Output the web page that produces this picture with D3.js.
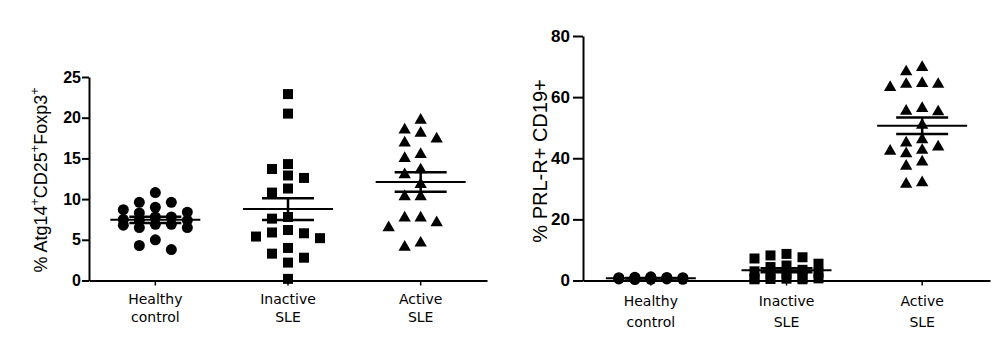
<!DOCTYPE html>
<html>
<head>
<meta charset="utf-8">
<script src="https://cdn.jsdelivr.net/npm/d3@7"></script>
<style>
  html, body { margin: 0; padding: 0; background: #fff; }
  svg { display: block; }
</style>
</head>
<body>
<svg id="chart" width="1002" height="340"></svg>
<script>
// ---------- data ----------
const categories = ["Healthy control", "Inactive SLE", "Active SLE"];

const atgTicks = [0, 5, 10, 15, 20, 25];
const atgHealthy  = [10.8, 9.6, 9.6, 9.0, 8.7, 8.4, 8.3, 7.8, 7.8, 7.5, 7.4, 7.4, 6.9, 6.9, 6.8, 6.5, 6.5, 5.0, 4.3, 3.8];
const atgInactive = [22.9, 20.5, 14.3, 13.7, 12.9, 12.6, 11.3, 10.8, 7.8, 7.6, 6.2, 5.9, 5.8, 5.4, 5.2, 4.0, 3.3, 2.8, 2.2, 0.2];
const atgActive   = [19.7, 18.5, 18.1, 17.4, 16.9, 15.5, 15.0, 13.6, 13.0, 11.8, 10.3, 10.3, 7.7, 7.7, 7.1, 6.5, 4.6, 4.1];

const prlTicks = [0, 20, 40, 60, 80];
const prlHealthy  = [1.2, 0.9, 0.8, 1.0, 0.7, 0.5, 0.9, 0.6, 0.4, 0.8, 1.1, 0.3, 0.7, 0.5, 0.9, 0.6, 0.8, 0.4];
const prlInactive = [8.7, 8.2, 7.6, 7.2, 5.5, 4.9, 4.4, 3.5, 3.0, 2.5, 2.2, 2.0, 0.8, 0.7, 0.7, 0.6, 0.5, 0.4, 0.4];
const prlActive   = [69.7, 68.3, 64.5, 64.2, 64.2, 63.2, 56.3, 55.4, 55.2, 50.8, 46.1, 45.0, 43.7, 42.6, 42.3, 41.5, 38.8, 37.4, 32.0, 31.5];

// ---------- layout ----------
const svg = d3.select("#chart");
const symbols = [d3.symbolCircle, d3.symbolSquare, d3.symbolTriangle];
const symSizes = [95, 100, 66];

function dodge(vals, y, step, maxCol, minDist) {
  const order = d3.range(vals.length).sort((a, b) => vals[b] - vals[a]);
  const cands = [0];
  for (let k = 1; k <= maxCol; k++) cands.push(-k, k);
  const cols = new Array(vals.length);
  const placed = [];
  for (const i of order) {
    const py = y(vals[i]);
    let best = 0, bestD = -1;
    for (const c of cands) {
      const same = placed.filter(p => p.c === c);
      const d = same.length ? d3.min(same, p => Math.abs(p.y - py)) : Infinity;
      if (d >= minDist) { best = c; bestD = Infinity; break; }
      if (d > bestD) { bestD = d; best = c; }
    }
    cols[i] = best;
    placed.push({ c: best, y: py });
  }
  return cols.map(c => c * step);
}

function panel(cfg) {
  const g = svg.append("g");
  const x = d3.scaleBand().domain(categories).range(cfg.xRange);
  const y = d3.scaleLinear().domain(cfg.yDomain).range(cfg.yRange);

  // y axis
  const ya = g.append("g")
    .attr("transform", `translate(${cfg.xRange[0]},0)`)
    .call(d3.axisLeft(y).tickValues(cfg.ticks).tickSize(cfg.tickLen).tickSizeOuter(0).tickPadding(cfg.tickPad));
  ya.select(".domain").attr("stroke", "#000").attr("stroke-width", 2);
  ya.selectAll(".tick line").attr("stroke", "#000").attr("stroke-width", 2);
  ya.selectAll(".tick text")
    .attr("font-family", "'Liberation Sans', Arial, sans-serif")
    .attr("font-weight", "bold")
    .attr("font-size", cfg.tickFont)
    .attr("fill", "#000");

  // x axis
  const xa = g.append("g")
    .attr("transform", `translate(0,${y(0)})`)
    .call(d3.axisBottom(x).tickSize(5).tickSizeOuter(0).tickFormat(""));
  xa.select(".domain").attr("stroke", "#000").attr("stroke-width", 2);
  xa.selectAll(".tick line").attr("stroke", "#000").attr("stroke-width", 1.5);

  // category labels (two lines)
  categories.forEach(cat => {
    const parts = cat.split(" ");
    const t = g.append("text")
      .attr("text-anchor", "middle")
      .attr("font-family", "'DejaVu Sans', sans-serif")
      .attr("font-size", 14)
      .attr("fill", "#000");
    parts.forEach((p, i) => {
      t.append("tspan")
        .attr("x", x(cat) + x.bandwidth() / 2)
        .attr("y", cfg.labelY[i])
        .text(p);
    });
  });

  // y title
  const tt = g.append("text")
    .attr("transform", `translate(${cfg.titleX},${cfg.titleY}) rotate(-90)`)
    .attr("text-anchor", "middle")
    .attr("font-family", "'Liberation Sans', Arial, sans-serif")
    .attr("font-size", cfg.titleFont)
    .attr("fill", "#000");
  cfg.title.forEach(seg => {
    if (seg.sup) {
      tt.append("tspan").attr("font-size", cfg.titleFont * 0.7).attr("dy", -cfg.titleFont * 0.45).text(seg.t);
    } else {
      tt.append("tspan").attr("dy", seg.after ? cfg.titleFont * 0.45 : 0).text(seg.t);
    }
  });

  // points and mean ± SEM
  cfg.series.forEach((vals, si) => {
    const cat = categories[si];
    const cx = x(cat) + x.bandwidth() / 2;
    const offs = dodge(vals, y, 16, 2, 10.5);
    const sym = d3.symbol().type(symbols[si]).size(symSizes[si]);
    g.append("g").selectAll("path")
      .data(vals)
      .join("path")
      .attr("d", sym)
      .attr("transform", (d, i) => `translate(${cx + offs[i]},${y(d)})`)
      .attr("fill", "#000");

    const m = d3.mean(vals);
    const sem = d3.deviation(vals) / Math.sqrt(vals.length);
    const lg = g.append("g").attr("stroke", "#000");
    lg.append("line").attr("x1", cx - 45).attr("x2", cx + 45)
      .attr("y1", y(m)).attr("y2", y(m)).attr("stroke-width", 2);
    lg.append("line").attr("x1", cx).attr("x2", cx)
      .attr("y1", y(m - sem)).attr("y2", y(m + sem)).attr("stroke-width", 2.5);
    [m - sem, m + sem].forEach(v => {
      lg.append("line").attr("x1", cx - 26).attr("x2", cx + 26)
        .attr("y1", y(v)).attr("y2", y(v)).attr("stroke-width", 2.5);
    });
  });
}

panel({
  xRange: [89, 487], yRange: [280.5, 77], yDomain: [0, 25], ticks: atgTicks,
  tickLen: 7, tickPad: 1, tickFont: 16,
  labelY: [304, 322],
  titleX: 47, titleY: 180, titleFont: 18,
  title: [{ t: "% Atg14" }, { t: "+", sup: true }, { t: "CD25", after: true }, { t: "+", sup: true }, { t: "Foxp3", after: true }, { t: "+", sup: true }],
  series: [atgHealthy, atgInactive, atgActive]
});

panel({
  xRange: [583, 990], yRange: [280.5, 36], yDomain: [0, 80], ticks: prlTicks,
  tickLen: 10, tickPad: 3, tickFont: 17,
  labelY: [306, 327],
  titleX: 547, titleY: 161, titleFont: 20,
  title: [{ t: "% PRL-R+ CD19+" }],
  series: [prlHealthy, prlInactive, prlActive]
});
</script>
</body>
</html>
